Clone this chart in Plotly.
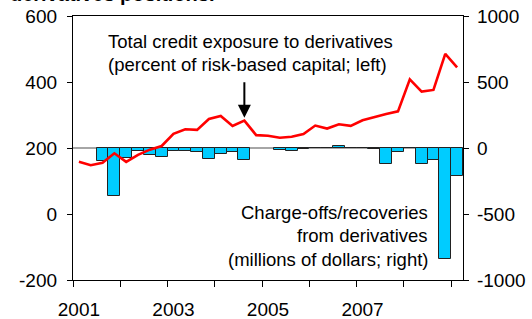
import plotly.graph_objects as go

# Quarterly data, 2001Q1 .. 2009Q1
quarters = [2001 + (k + 0.5) / 4 for k in range(33)]

exposure_pct = [158, 148, 155, 184, 158, 179, 195, 206, 243, 257, 255, 288, 297, 267, 283,
                239, 237, 231, 234, 242, 268, 259, 272, 267, 284, 294, 303, 311, 408, 371,
                376, 485, 444]

chargeoffs = [None, None, -100, -367, -76, -26, -51, -71, -20, -26, -33, -82, -45, -31, -91,
              None, None, -14, -24, -4, -3, -3, 17, -3, -3, -4, -120, -27, -2, -120,
              -88, -838, -215]

year_label_pos = [2001.125, 2003.125, 2005.125, 2007.125]
year_labels = ["2001", "2003", "2005", "2007"]
left_ticks = [-200, 0, 200, 400, 600]
right_ticks = [-1000, -500, 0, 500, 1000]

FONT = "Arial, 'Liberation Sans', sans-serif"

fig = go.Figure()
fig.add_trace(go.Bar(
    x=quarters, y=chargeoffs, yaxis="y", width=0.25,
    marker=dict(color="#00CCFF", line=dict(color="#222222", width=1)),
    showlegend=False,
))
fig.add_trace(go.Scatter(
    x=quarters, y=exposure_pct, yaxis="y2", mode="lines",
    line=dict(color="#FF0000", width=2.6),
    showlegend=False,
))

PL, PT, PW, PH = 72.7, 16, 390, 264


def px(xp):
    return (xp - PL) / PW


def py(yp):
    return 1 - (yp - PT) / PH


annots = [
    dict(text="Total credit exposure to derivatives", x=px(106), y=py(41.7),
         xanchor="left", yanchor="middle"),
    dict(text="(percent of risk-based capital; left)", x=px(106), y=py(65),
         xanchor="left", yanchor="middle"),
    dict(text="Charge-offs/recoveries", x=px(430), y=py(212),
         xanchor="right", yanchor="middle"),
    dict(text="from derivatives", x=px(430), y=py(235.5),
         xanchor="right", yanchor="middle"),
    dict(text="(millions of dollars; right)", x=px(430), y=py(259),
         xanchor="right", yanchor="middle"),
]
for a in annots:
    fig.add_annotation(xref="paper", yref="paper", showarrow=False,
                       font=dict(size=18.5, color="black", family=FONT), **a)

fig.add_annotation(text="<b>derivatives positions.</b>", xref="paper", yref="paper",
                   x=px(8), y=py(-6.5), xanchor="left", yanchor="middle", showarrow=False,
                   font=dict(size=20, color="black", family=FONT))

fig.add_annotation(x=2004.625, y=292, xref="x", yref="y2", ax=0, ay=-37,
                   showarrow=True, arrowhead=2, arrowsize=1.3, arrowwidth=2,
                   arrowcolor="black", text="")

fig.add_shape(type="line", xref="paper", yref="y", x0=0, x1=1, y0=0, y1=0,
              line=dict(color="#888888", width=1.5), layer="below")

axis_common = dict(showgrid=False, zeroline=False, showline=True, linecolor="black",
                   linewidth=1.3, tickcolor="black", ticks="outside", ticklen=5,
                   automargin=False,
                   tickfont=dict(size=19, color="black", family=FONT))

fig.update_layout(
    width=532, height=319,
    margin=dict(l=PL, r=532 - PL - PW, t=PT, b=319 - PT - PH, autoexpand=False),
    paper_bgcolor="white", plot_bgcolor="white",
    font=dict(family=FONT, color="black"),
    bargap=0,
    xaxis=dict(range=[2001, 2009.25], showgrid=False, zeroline=False, showline=True,
               linecolor="black", linewidth=1.3, mirror=True, automargin=False,
               tickvals=year_label_pos, ticktext=year_labels, ticks="",
               ticklabelstandoff=12,
               tickfont=dict(size=19, color="black", family=FONT),
               minor=dict(ticks="outside", ticklen=6, tick0=2001, dtick=1,
                          tickcolor="black", showgrid=False)),
    yaxis=dict(side="right", range=[-1000, 1000], tickvals=right_ticks,
               ticktext=[str(v) for v in right_ticks], ticklabelstandoff=4, **axis_common),
    yaxis2=dict(side="left", overlaying="y", range=[-200, 600], tickvals=left_ticks,
                ticktext=[str(v) for v in left_ticks], ticklabelstandoff=6, **axis_common),
)

fig.write_html("out.html", config={"displayModeBar": False},
               post_script="document.body.style.margin='0px';document.body.style.padding='0px';document.body.style.overflow='hidden';")
